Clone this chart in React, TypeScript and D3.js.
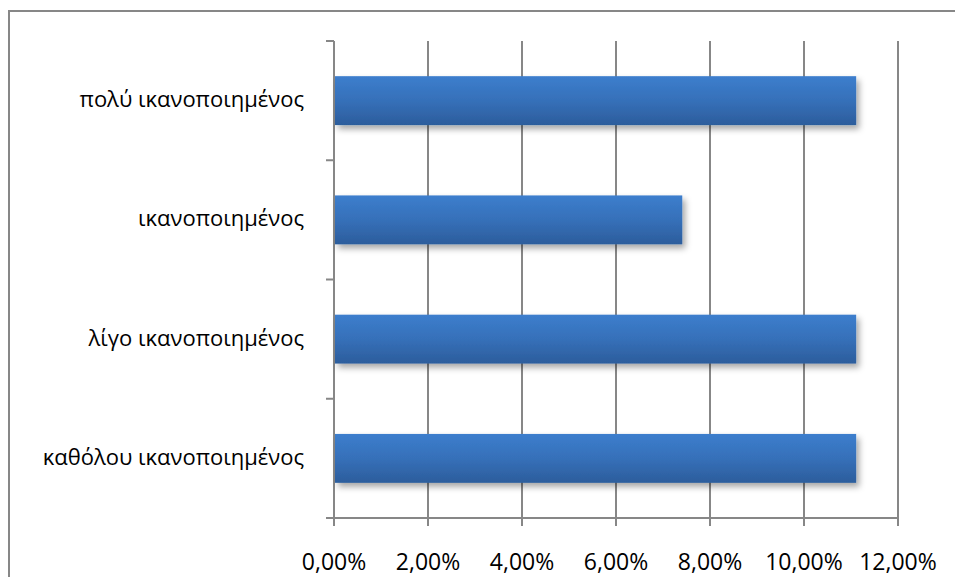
import React from "react";
import * as d3 from "d3";

const categories = [
  "πολύ ικανοποιημένος",
  "ικανοποιημένος",
  "λίγο ικανοποιημένος",
  "καθόλου ικανοποιημένος",
];
const shares = [0.1111, 0.0741, 0.1111, 0.1111];
const tickValues = [0, 0.02, 0.04, 0.06, 0.08, 0.1, 0.12];

const W = 955;
const H = 577;
const plot = { left: 334, right: 898, top: 41, bottom: 518 };
const FONT = "'Open Sans', 'Noto Sans', sans-serif";
const GRID = "#878787";

const fmt = (v: number) => (v * 100).toFixed(2).replace(".", ",") + "%";

export default function App() {
  const x = d3.scaleLinear().domain([0, 0.12]).range([plot.left, plot.right]);
  const y = d3
    .scaleBand<string>()
    .domain(categories)
    .range([plot.top, plot.bottom])
    .padding(0);
  const bw = y.bandwidth();
  const barH = bw * 0.41;

  return (
    <svg
      width={W}
      height={H}
      viewBox={`0 0 ${W} ${H}`}
      style={{ position: "absolute", left: 0, top: 0, display: "block", background: "#fff" }}
    >
      <defs>
        <linearGradient id="barFill" x1="0" y1="0" x2="0" y2="1">
          <stop offset="0" stopColor="#3c7ecd" />
          <stop offset="0.5" stopColor="#3670b9" />
          <stop offset="1" stopColor="#2c5d9c" />
        </linearGradient>
        <filter id="barShadow" x="-5%" y="-30%" width="115%" height="180%">
          <feDropShadow dx="3" dy="4" stdDeviation="3" floodColor="#000" floodOpacity="0.35" />
        </filter>
      </defs>

      {/* chart frame */}
      <rect x={9} y={11} width={W + 20} height={H + 20} fill="none" stroke={GRID} strokeWidth={2} />

      {/* vertical gridlines with tick stubs below the axis */}
      {tickValues.map((t) => (
        <line
          key={"g" + t}
          x1={x(t)}
          x2={x(t)}
          y1={plot.top}
          y2={plot.bottom + 8}
          stroke={GRID}
          strokeWidth={2}
        />
      ))}

      {/* category axis */}
      <line x1={plot.left} x2={plot.left} y1={plot.top} y2={plot.bottom} stroke={GRID} strokeWidth={2} />
      {[...categories.map((c) => y(c) as number), plot.bottom].map((v, i) => (
        <line key={"yt" + i} x1={plot.left - 8} x2={plot.left} y1={v} y2={v} stroke={GRID} strokeWidth={2} />
      ))}

      {/* value axis */}
      <line x1={plot.left - 8} x2={plot.right} y1={plot.bottom} y2={plot.bottom} stroke={GRID} strokeWidth={2} />

      {/* bars */}
      {categories.map((c, i) => {
        const cy = (y(c) as number) + bw / 2;
        return (
          <rect
            key={"b" + c}
            x={x(0) + 1}
            y={cy - barH / 2}
            width={x(shares[i]) - x(0) - 1}
            height={barH}
            fill="url(#barFill)"
            filter="url(#barShadow)"
          />
        );
      })}

      {/* category labels */}
      {categories.map((c) => (
        <text
          key={"l" + c}
          x={304}
          y={(y(c) as number) + bw / 2}
          dy="0.3em"
          textAnchor="end"
          fontFamily={FONT}
          fontSize={22}
          fill="#000"
        >
          {c}
        </text>
      ))}

      {/* value tick labels */}
      {tickValues.map((t) => (
        <text
          key={"tl" + t}
          x={x(t)}
          y={570}
          textAnchor="middle"
          fontFamily={FONT}
          fontSize={23}
          fill="#000"
        >
          {fmt(t)}
        </text>
      ))}
    </svg>
  );
}
